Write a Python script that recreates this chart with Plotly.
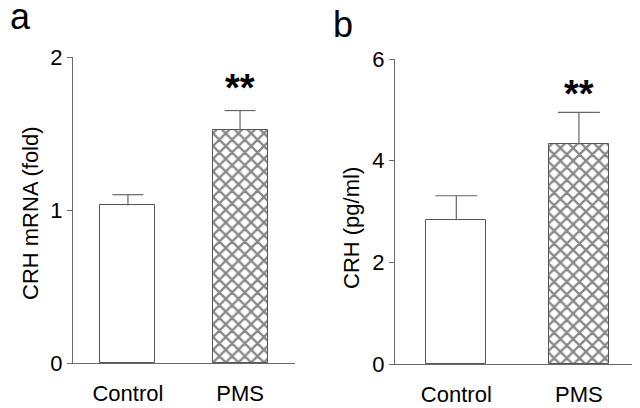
import plotly.graph_objects as go

categories = ["Control", "PMS"]
mrna_values = [1.03, 1.52]
mrna_errors = [0.07, 0.13]
crh_values = [2.83, 4.32]
crh_errors = [0.48, 0.63]
mrna_ticks = [0, 1, 2]
crh_ticks = [0, 2, 4, 6]
sig_labels = ["", "**"]

AX = "#6a6a6a"
FONT = "Liberation Sans, Arial, sans-serif"
W, H = 632, 400  # page body has an 8px margin

fig = go.Figure()

def add_panel(xa, ya, vals, errs, cap):
    for i, (c, v, e) in enumerate(zip(categories, vals, errs)):
        hatched = i == 1
        fig.add_trace(go.Bar(
            x=[i], y=[v], xaxis=xa, yaxis=ya, width=0.49,
            marker=dict(
                color="white",
                line=dict(color="#555555", width=1),
                pattern=dict(shape="x" if hatched else "", size=9, solidity=0.45,
                             fgcolor="#111111", bgcolor="white"),
            ),
            showlegend=False,
        ))
        # upper error bar: stem + cap
        fig.add_trace(go.Scatter(
            x=[i, i], y=[v, v + e], xaxis=xa, yaxis=ya, mode="lines",
            line=dict(color="#666666", width=1.2), showlegend=False, hoverinfo="skip"))
        fig.add_trace(go.Scatter(
            x=[i], y=[v + e], xaxis=xa, yaxis=ya, mode="markers",
            marker=dict(symbol="line-ew", size=2 * cap,
                        line=dict(color="#666666", width=1.2)),
            showlegend=False, hoverinfo="skip"))

add_panel("x", "y", mrna_values, mrna_errors, 11)
add_panel("x2", "y2", crh_values, crh_errors, 15)

xcommon = dict(showline=True, linecolor=AX, linewidth=1, ticks="", showgrid=False,
               zeroline=False, tickmode="array", tickvals=[0, 1], ticktext=categories,
               tickfont=dict(family=FONT, size=22, color="black"), ticklabelstandoff=11,
               automargin=False)
ycommon = dict(showline=True, linecolor=AX, linewidth=1, ticks="outside", ticklen=5,
               tickcolor=AX, showgrid=False, zeroline=False, automargin=False,
               tickfont=dict(family=FONT, size=22, color="black"))

fig.update_layout(
    width=W, height=H,
    margin=dict(l=0, r=0, t=0, b=0, pad=0),
    paper_bgcolor="white", plot_bgcolor="white",
    bargap=0,
    xaxis=dict(domain=[65/W, 287/W], range=[-0.49, 1.49], anchor="y", **xcommon),
    yaxis=dict(domain=[1-355/H, 1-49/H], range=[0, 2], anchor="x",
               tickvals=mrna_ticks, **ycommon),
    xaxis2=dict(domain=[387/W, 631/W], range=[-0.5, 1.49], anchor="y2", **xcommon),
    yaxis2=dict(domain=[1-356/H, 1-51/H], range=[0, 6], anchor="x2",
                tickvals=crh_ticks, **ycommon),
)

# significance marks
for xa, ya, vals, errs, off in [("x", "y", mrna_values, mrna_errors, 0.15),
                                ("x2", "y2", crh_values, crh_errors, 0.36)]:
    for i, s in enumerate(sig_labels):
        if s:
            fig.add_annotation(x=i, y=vals[i] + errs[i] + off, xref=xa, yref=ya,
                               text=f"<b>{s}</b>", showarrow=False, yanchor="middle",
                               font=dict(family=FONT, size=38, color="black"))

# axis titles
fig.add_annotation(x=23/W, y=1-205/H, xref="paper", yref="paper",
                   xanchor="center", yanchor="middle",
                   text="CRH mRNA (fold)", textangle=-90, showarrow=False,
                   font=dict(family=FONT, size=22, color="black"))
fig.add_annotation(x=343/W, y=1-220/H, xref="paper", yref="paper",
                   xanchor="center", yanchor="middle",
                   text="CRH (pg/ml)", textangle=-90, showarrow=False,
                   font=dict(family=FONT, size=22, color="black"))

# panel labels
fig.add_annotation(x=0, y=1-9/H, xref="paper", yref="paper", xanchor="left", yanchor="middle",
                   text="a", showarrow=False, font=dict(family=FONT, size=36, color="black"))
fig.add_annotation(x=323/W, y=1-16/H, xref="paper", yref="paper", xanchor="left", yanchor="middle",
                   text="b", showarrow=False, font=dict(family=FONT, size=36, color="black"))

fig.write_html("out.html")
